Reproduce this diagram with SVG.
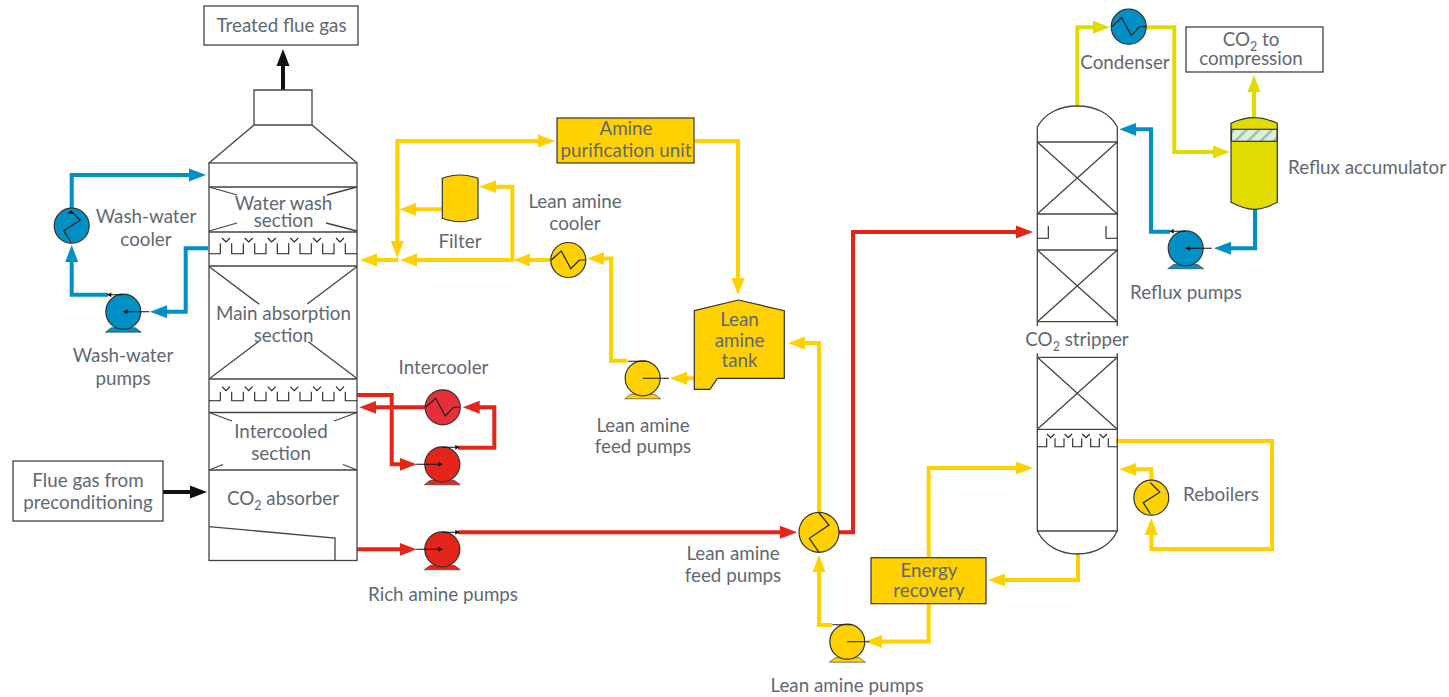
<svg xmlns="http://www.w3.org/2000/svg" width="1449" height="697" viewBox="0 0 1449 697">
<style>
text{font-family:"Lato","Liberation Sans",sans-serif;font-size:18.8px;fill:#5f6872;text-anchor:middle}
.sub{font-size:12.500px}
.v{fill:none;stroke:#444;stroke-width:1.3}
.t{fill:none;stroke:#222;stroke-width:1.1}
.b{fill:#fff;stroke:#333;stroke-width:1.2}
.eq{stroke:#333;stroke-width:1.2}
.yl{fill:#ffd100}.bl{fill:#0090c6}.rd{fill:#e4261a}.gy{fill:#e0dc00}.rd2{fill:#e5303a}
.pl{fill:none;stroke-width:4;stroke-linejoin:miter}
.cy{stroke:#ffd100}.cb{stroke:#0090c6}.cr{stroke:#e4261a}.cg{stroke:#e0dc00}.ck{stroke:#111}
</style>
<defs>
<marker id="my" markerUnits="userSpaceOnUse" markerWidth="18" markerHeight="14" refX="8" refY="7" orient="auto"><path d="M0,.5L17,7L0,13.500Z" fill="#ffd100"/></marker>
<marker id="mb" markerUnits="userSpaceOnUse" markerWidth="18" markerHeight="14" refX="8" refY="7" orient="auto"><path d="M0,.5L17,7L0,13.500Z" fill="#0090c6"/></marker>
<marker id="mr" markerUnits="userSpaceOnUse" markerWidth="18" markerHeight="14" refX="8" refY="7" orient="auto"><path d="M0,.5L17,7L0,13.500Z" fill="#e4261a"/></marker>
<marker id="mg" markerUnits="userSpaceOnUse" markerWidth="18" markerHeight="14" refX="8" refY="7" orient="auto"><path d="M0,.5L17,7L0,13.500Z" fill="#e0dc00"/></marker>
<marker id="mk" markerUnits="userSpaceOnUse" markerWidth="18" markerHeight="14" refX="8" refY="7" orient="auto"><path d="M0,.5L17,7L0,13.500Z" fill="#111"/></marker>
<pattern id="hatch" patternUnits="userSpaceOnUse" width="9" height="9" patternTransform="rotate(45)"><rect width="9" height="9" fill="#dcefdc"/><rect width="2.500" height="9" fill="#9cc2a6"/></pattern>
<g id="baseP"><path d="M-12,16L12,16L18,20.500L-18,20.500Z" stroke="#333" stroke-width=".6"/><circle r="17.500" class="eq"/></g>
<g id="pumpL"><use href="#baseP"/><path d="M0,0H26M-16,-17H0" stroke="#111" stroke-width="1.1" fill="none"/><path d="M0,0L4,-2.500V2.500ZM-16,-17L-12,-19.500V-14.500Z" fill="#111"/></g>
<g id="pumpY"><use href="#baseP"/><path d="M0,0H22M-15,-17H4" stroke="#222" stroke-width="1.1" fill="none"/></g>
<g id="pumpR"><use href="#baseP"/><path d="M-26,0H0M0,-17H17" stroke="#111" stroke-width="1.1" fill="none"/><path d="M0,0L-4,-2.500V2.500ZM17,-17L13,-19.500V-14.500Z" fill="#111"/></g>
<g id="hxH"><circle r="17.500" class="eq"/><path d="M-17,0L-7,-9L2.500,8.700L11,0H17" fill="none" stroke="#222" stroke-width="1.2"/></g>
<g id="hxV"><circle r="17.500" class="eq"/><path d="M-1,-15L8.500,-5.500L-8,5L-1,16" fill="none" stroke="#222" stroke-width="1.2"/></g>
</defs>

<g id="connectors">
<path class="pl ck" d="M283,90V58" marker-end="url(#mk)"/>
<path class="pl ck" d="M163,492H198" marker-end="url(#mk)"/>
<path class="pl cb" d="M71.700,208V175H197" marker-end="url(#mb)"/>
<path class="pl cb" d="M108,294.700H71.700V254" marker-end="url(#mb)"/>
<path class="pl cb" d="M208,248.300H185.700V311.700H159" marker-end="url(#mb)"/>
<path class="pl cr" d="M357,395H391.700V464.300H407.700" marker-end="url(#mr)"/>
<path class="pl cr" d="M425,407.300H368.300" marker-end="url(#mr)"/>
<path class="pl cr" d="M458,447.700H494.300V407.300H471.700" marker-end="url(#mr)"/>
<path class="pl cr" d="M357,549.300H407.700" marker-end="url(#mr)"/>
<path class="pl cr" d="M458,532.300H788" marker-end="url(#mr)"/>
<path class="pl cr" d="M837,532.300H853V232H1024" marker-end="url(#mr)"/>
<path class="pl cy" d="M397.300,141H546" marker-end="url(#my)"/>
<path class="pl cy" d="M397.300,139V249" marker-end="url(#my)"/>
<path class="pl cy" d="M694,141H738V286" marker-end="url(#my)"/>
<path class="pl cy" d="M398,260H369" marker-end="url(#my)"/>
<path class="pl cy" d="M551,260H522.300" marker-end="url(#my)"/>
<path class="pl cy" d="M512.300,260H409" marker-end="url(#my)"/>
<path class="pl cy" d="M512.300,262V186.700H488.300" marker-end="url(#my)"/>
<path class="pl cy" d="M442.700,209.300H408.300" marker-end="url(#my)"/>
<path class="pl cy" d="M627,360.800H611V258.500H596.300" marker-end="url(#my)"/>
<path class="pl cy" d="M694,378.300H679" marker-end="url(#my)"/>
<path class="pl cy" d="M819,513V343H797" marker-end="url(#my)"/>
<path class="pl cy" d="M832,625H819V564" marker-end="url(#my)"/>
<path class="pl cy" d="M928.700,604V641.500H874" marker-end="url(#my)"/>
<path class="pl cy" d="M928.700,558V468H1024" marker-end="url(#my)"/>
<path class="pl cy" d="M1078,553V580H997" marker-end="url(#my)"/>
<path class="pl cy" d="M1116,441H1272V549H1151.300V527" marker-end="url(#my)"/>
<path class="pl cy" d="M1151.300,482V469.300H1128.300" marker-end="url(#my)"/>
<path class="pl cg" d="M1077.300,106V27.300H1101" marker-end="url(#mg)"/>
<path class="pl cg" d="M1146,27.300H1174.300V152H1221" marker-end="url(#mg)"/>
<path class="pl cg" d="M1254,118V84" marker-end="url(#mg)"/>
<path class="pl cb" d="M1255,209V248.300H1223" marker-end="url(#mb)"/>
<path class="pl cb" d="M1170,231.700H1151V129.300H1128.300" marker-end="url(#mb)"/>
</g>

<g id="absorber">
<path class="v" d="M254,90H312V125H254ZM254,125L209,163M312,125L357,163"/>
<rect class="v" x="209" y="163" width="148" height="397.500"/>
<path class="v" d="M209,187H357M209,232H357M209,266H357M209,379H357M209,412.500H357M209,470H357"/>
<path class="v" d="M209,187L237,195M357,187L327,195M209,231L237,223M357,231L326,223"/>
<path class="v" d="M209.300,266.700L259.300,304.300M356.700,266.700L307.300,304M210,378.300L258.300,341.700M356.700,378.300L308.300,341.700"/>
<path class="v" d="M209,412.500L232,421M357,412.500L334,421M209,470L223,464.500M357,470L343,464.500"/>
<path class="t" d="M209,253.700H220.300V243.300M231.700,243.300V253.700H243.300V243.300M254.700,243.300V253.700H266V243.300M277.300,243.300V253.700H288.700V243.300M300,243.300V253.700H311.300V243.300M322.700,243.300V253.700H334V243.300M345.300,243.300V253.700H357"/>
<path class="t" d="M222,238L226,242L230,238M244.700,238L248.700,242L252.700,238M267.700,238L271.700,242L275.700,238M290.300,238L294.300,242L298.300,238M313,238L317,242L321,238M336,238L340,242L344,238"/>
<path class="t" d="M209,400.700H220.300V391.700M231.700,391.700V400.700H243.300V391.700M254.700,391.700V400.700H266V391.700M277.300,391.700V400.700H288.700V391.700M300,391.700V400.700H311.300V391.700M322.700,391.700V400.700H334V391.700M345.300,391.700V400.700H357"/>
<path class="t" d="M222,386.700L226,390.700L230,386.700M244.700,386.700L248.700,390.700L252.700,386.700M267.700,386.700L271.700,390.700L275.700,386.700M290.300,386.700L294.300,390.700L298.300,386.700M313,386.700L317,390.700L321,386.700M336,386.700L340,390.700L344,386.700"/>
<path class="v" d="M209,526.700L335,538V560"/>
<text x="283.500" y="209.500">Water wash</text><text x="283.500" y="226.500">section</text>
<text x="283.500" y="319.500">Main absorption</text><text x="283.500" y="342">section</text>
<text x="281" y="438">Intercooled</text><text x="281" y="460">section</text>
<text x="283" y="504.500">CO<tspan class="sub" dy="5">2</tspan><tspan dy="-5"> absorber</tspan></text>
</g>

<g id="stripper">
<path class="v" d="M1037.300,326V127C1045,113 1060,106 1077.300,106C1095,106 1110,113 1117.300,127V326"/>
<path class="v" d="M1037.300,142H1117.300M1037.300,214H1117.300M1037.300,250H1117.300M1037.300,321.700H1117.300"/>
<path class="v" d="M1037.300,142L1117.300,214M1117.300,142L1037.300,214M1037.300,250L1117.300,321.700M1117.300,250L1037.300,321.700"/>
<path class="t" d="M1037.300,238.300H1048.300V226M1117.300,238.300H1106V226"/>
<path class="v" d="M1037.300,353.300V531C1045,546 1060,554 1077.300,554C1095,554 1110,546 1117.300,531V353.300M1037.300,357.300H1117.300M1037.300,429.300H1117.300M1037.300,531H1117.300"/>
<path class="v" d="M1037.300,357.300L1117.300,429.300M1117.300,357.300L1037.300,429.300"/>
<path class="t" d="M1037.300,446.700H1046.700V438.300M1055,438.300V446.700H1064V438.300M1072.700,438.300V446.700H1081.700V438.300M1090.700,438.300V446.700H1099.300V438.300M1108.300,438.300V446.700H1117.300"/>
<path class="t" d="M1047,434L1050.700,437.700L1054.400,434M1064.600,434L1068.300,437.700L1072,434M1082.300,434L1086,437.700L1089.700,434M1099.600,434L1103.300,437.700L1107,434"/>
<text x="1077" y="346">CO<tspan class="sub" dy="5">2</tspan><tspan dy="-5"> stripper</tspan></text>
</g>

<g id="box-treated"><rect class="b" x="204" y="6" width="154" height="39"/><text x="281.500" y="32">Treated flue gas</text></g>
<g id="box-fluegas"><rect class="b" x="13" y="461" width="150" height="60"/><text x="88" y="487">Flue gas from</text><text x="88" y="509">preconditioning</text></g>
<g id="box-co2"><rect class="b" x="1186" y="27" width="137" height="45"/><text x="1251" y="46">CO<tspan class="sub" dy="5">2</tspan><tspan dy="-5"> to</tspan></text><text x="1251" y="65">compression</text></g>

<g id="wash-cooler" class="bl"><use href="#hxV" x="71.700" y="225.700"/><path d="M70.700,210.700L67,213.500H74Z" fill="#111"/><text x="146" y="223">Wash-water</text><text x="146" y="246">cooler</text></g>
<g id="wash-pumps" class="bl"><use href="#pumpL" x="123.300" y="311.700"/><text x="123" y="362">Wash-water</text><text x="123" y="385">pumps</text></g>
<g id="intercooler" class="rd2"><use href="#hxH" x="442.700" y="407.300"/><text x="443.500" y="374">Intercooler</text></g>
<g id="intercooler-pump" class="rd"><use href="#pumpR" x="442.300" y="464.300"/></g>
<g id="rich-pumps" class="rd"><use href="#pumpR" x="442.300" y="549.300"/><text x="443" y="601">Rich amine pumps</text></g>
<g id="filter" class="yl"><path class="eq" d="M442.300,178.300C449,176 455,175 460,175C465,175 471,176 478,178.300V218.300C471,220.700 465,221.700 460,221.700C455,221.700 449,220.700 442.300,218.300Z"/><text x="460" y="248">Filter</text></g>
<g id="lean-cooler" class="yl"><use href="#hxH" x="568.300" y="260"/><text x="575" y="208">Lean amine</text><text x="575" y="230">cooler</text></g>
<g id="purification" class="yl"><rect class="eq" x="557" y="118" width="137" height="45"/><text x="626" y="135">Amine</text><text x="626" y="157">purification unit</text></g>
<g id="lean-tank" class="yl"><path class="eq" d="M694.300,310.700L738.300,300L784.300,310.700V378.300H717.300L710,389.300H694.300Z"/><text x="739.500" y="326">Lean</text><text x="739.500" y="347">amine</text><text x="739.500" y="367">tank</text></g>
<g id="lean-feed-pumps" class="yl"><use href="#pumpY" x="642.700" y="378.300"/><path d="M664,378.300H669" stroke="#222" stroke-width="1.100"/><text x="643" y="432">Lean amine</text><text x="643" y="453">feed pumps</text></g>
<g id="cross-exchanger" class="yl"><circle cx="819" cy="532.300" r="20" class="eq"/><path d="M819,513L829,525L809.300,538.300L819,552.300" fill="none" stroke="#222" stroke-width="1.200"/><text x="733" y="560">Lean amine</text><text x="733" y="582">feed pumps</text></g>
<g id="lean-pumps" class="yl"><use href="#pumpY" x="847.300" y="641.700"/><text x="847" y="692">Lean amine pumps</text></g>
<g id="energy" class="yl"><rect class="eq" x="871" y="557.700" width="115" height="46"/><text x="929" y="577">Energy</text><text x="929" y="597">recovery</text></g>
<g id="reboilers" class="yl"><use href="#hxV" x="1151.300" y="497.700"/><text x="1221" y="501">Reboilers</text></g>
<g id="condenser" class="bl"><use href="#hxH" x="1128.700" y="26.700"/><text x="1125" y="69">Condenser</text></g>
<g id="reflux-accumulator"><path class="eq gy" d="M1231,123.300C1240,119 1247,117.700 1254,117.700C1261,117.700 1268,119 1277.300,123.300V202.300C1268,207 1261,209.300 1254,209.300C1247,209.300 1240,207 1231,202.300Z"/><rect class="eq" x="1231.500" y="129.300" width="45.500" height="12" fill="url(#hatch)"/><text x="1367" y="174">Reflux accumulator</text></g>
<g id="reflux-pumps" class="bl"><use href="#pumpL" x="1185.700" y="248.300"/><text x="1186" y="299">Reflux pumps</text></g>
</svg>
